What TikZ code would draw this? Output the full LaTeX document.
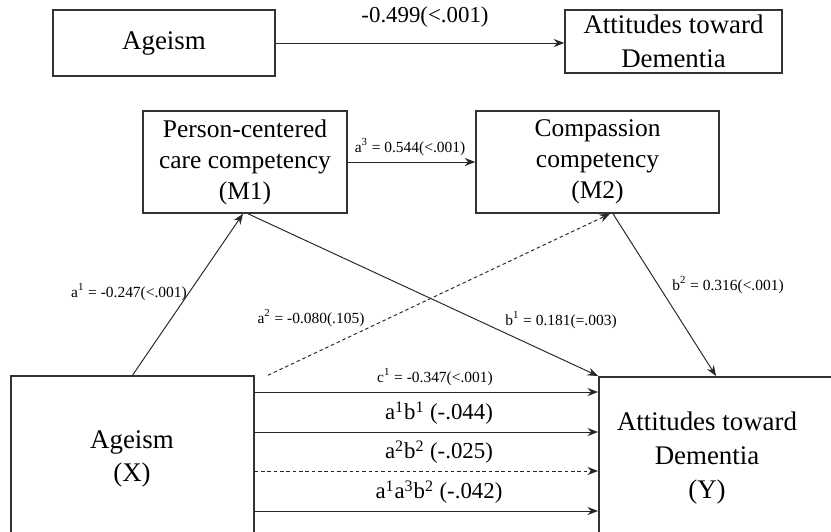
\documentclass[tikz,border=0pt]{standalone}
\usepackage{fontspec}
\setmainfont{Liberation Serif}
\usetikzlibrary{arrows.meta}
\newcommand{\sps}[1]{\textsuperscript{#1}}

\begin{document}
\begin{tikzpicture}[x=0.02cm, y=-0.02cm,
    box/.style={draw=black!80, line width=0.9pt, inner sep=0pt, align=center},
    big/.style={font=\fontsize{15.3}{19.2}\selectfont, align=center},
    mid/.style={font=\fontsize{14.5}{17.6}\selectfont, align=center},
    lab/.style={font=\fontsize{13}{15}\selectfont},
    small/.style={font=\fontsize{8.8}{10}\selectfont},
    arr/.style={-{Stealth[length=6pt, width=4.6pt, inset=2pt]}, line width=0.55pt, draw=black!85},
    darr/.style={arr, dash pattern=on 2pt off 1.6pt}]
    \useasboundingbox (0,0) rectangle (831,531);
    \clip (0,0) rectangle (831,531);

    % 总效应
    \node[box, big, minimum width=4.44cm, minimum height=1.32cm] (age) at (164,43) {Ageism};
    \node[box, big, minimum width=4.34cm, minimum height=1.26cm] (att) at (673.5,41.5) {Attitudes toward\\Dementia};
    \draw[arr] (age.east) -- (age.east -| att.west);
    \node[lab] (ctot) at (425,17) {-0.499(<.001)};

    % 中介变量
    \node[box, mid, minimum width=4.08cm, minimum height=2.04cm] (M1) at (245,162) {Person-centered\\care competency\\(M1)};
    \node[box, mid, minimum width=4.86cm, minimum height=2.04cm] (M2) at (597.5,162) {Compassion\\competency\\(M2)};
    \draw[arr] (M1.east) -- (M2.west);
    \node[small] (a3) at (410,147) {a\sps{3} = 0.544(<.001)};

    % 自变量与因变量
    \node[box, big, minimum width=4.86cm, minimum height=5cm] (X) at (132.5,501) {};
    \node[big] (Xtxt) at (132,459) {Ageism\\(X)};
    \node[box, anchor=north west, minimum width=9cm, minimum height=5cm] (Y) at (598,376) {};
    \node[big] (Ytxt) at (707,458) {Attitudes toward\\Dementia\\(Y)};

    % 路径
    \draw[arr] (X.north) -- (M1.south -| 243,0);
    \draw[arr] (M1.south -| 248,0) -- (Y.north west);
    \draw[darr] (X.north east -| 268,0) -- (M2.south -| 610,0);
    \draw[arr] (M2.south -| 613,0) -- (Y.north west -| 716,0);
    \node[small] (a1) at (129,292) {a\sps{1} = -0.247(<.001)};
    \node[small] (a2) at (311,318) {a\sps{2} = -0.080(.105)};
    \node[small] (b1) at (561,320) {b\sps{1} = 0.181(=.003)};
    \node[small] (b2) at (728,285) {b\sps{2} = 0.316(<.001)};

    % 直接效应与间接效应
    \draw[arr] (X.east |- 0,392) -- (Y.west |- 0,392);
    \draw[arr] (X.east |- 0,432) -- (Y.west |- 0,432);
    \draw[darr] (X.east |- 0,471) -- (Y.west |- 0,471);
    \draw[arr] (X.east |- 0,511) -- (Y.west |- 0,511);
    \node[small] (c1) at (435,377) {c\sps{1} = -0.347(<.001)};
    \node[lab] (ind1) at (439,413) {a\sps{1}b\sps{1} (-.044)};
    \node[lab] (ind2) at (439,452) {a\sps{2}b\sps{2} (-.025)};
    \node[lab] (ind3) at (439,492) {a\sps{1}a\sps{3}b\sps{2} (-.042)};
\end{tikzpicture}
\end{document}
